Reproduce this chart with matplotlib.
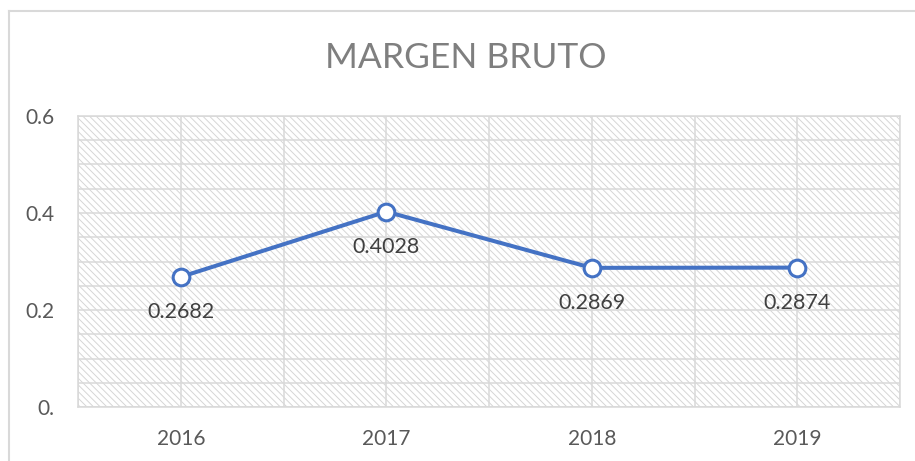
import matplotlib
matplotlib.use("Agg")
import matplotlib.pyplot as plt
from matplotlib.lines import Line2D
import numpy as np

# datos
years = ["2016", "2017", "2018", "2019"]
margen = [0.2682, 0.4028, 0.2869, 0.2874]
ytick_vals = [0.0, 0.2, 0.4, 0.6]
ytick_labels = ["0.", "0.2", "0.4", "0.6"]

plt.rcParams['font.family'] = ['Lato', 'DejaVu Sans']
plt.rcParams['hatch.color'] = '#d6d6d6'
plt.rcParams['hatch.linewidth'] = 0.7

fig = plt.figure(figsize=(9.15, 4.61), dpi=100)
ax = fig.add_axes([78/915, 54/461, 822/915, 291/461])

x = np.arange(len(years))

# fondo rayado
ax.patch.set_facecolor('white')
ax.patch.set_hatch('\\\\\\\\\\')
ax.patch.set_edgecolor('#d6d6d6')

ax.set_xlim(-0.5, len(years) - 0.5)
ax.set_ylim(0, 0.6)

# cuadricula
ax.set_xticks(np.arange(-0.5, len(years), 0.5), minor=True)
ax.set_yticks(np.arange(0, 0.601, 0.05), minor=True)
ax.set_xticks(x)
ax.set_xticklabels(years)
ax.set_yticks(ytick_vals)
ax.set_yticklabels(ytick_labels)
ax.grid(which='both', color='#d9d9d9', linewidth=1.1)
ax.set_axisbelow(True)

ax.tick_params(which='both', length=0)
ax.tick_params(axis='x', pad=16, labelsize=15, labelcolor='#595959')
ax.tick_params(axis='y', pad=17, labelsize=15, labelcolor='#595959')
for s in ax.spines.values():
    s.set_color('#d9d9d9')
    s.set_linewidth(1.1)

ax.plot(x, margen, color='#4472C4', linewidth=2.9, marker='o', markersize=12,
        markerfacecolor='white', markeredgecolor='#4472C4', markeredgewidth=2.2,
        zorder=5, clip_on=False)

for xi, v in zip(x, margen):
    ax.annotate("%.4f" % v, xy=(xi, v), xytext=(0, -25.5), textcoords='offset points',
                ha='center', va='center', fontsize=15.5, color='#404040')

fig.text(466/915, 1 - 58/461, "MARGEN BRUTO", ha='center', va='center',
         fontsize=25.5, color='#7f7f7f')

# marco del grafico
fig.add_artist(Line2D([9/915, 9/915], [0, 1 - 11/461], transform=fig.transFigure,
                      color='#d9d9d9', linewidth=1.5))
fig.add_artist(Line2D([9/915, 1], [1 - 11/461, 1 - 11/461], transform=fig.transFigure,
                      color='#d9d9d9', linewidth=1.5))

fig.savefig("out.png", dpi=100)
